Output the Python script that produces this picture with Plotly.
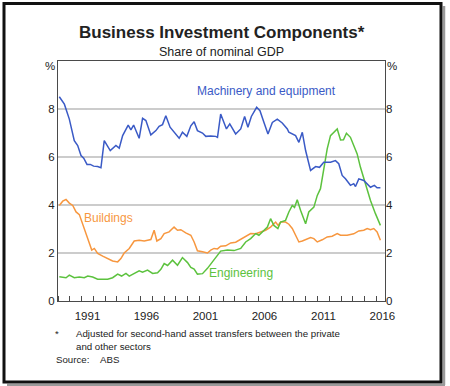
import plotly.graph_objects as go

# ---- data ----
me_year = [1989.11, 1989.54, 1989.96, 1990.38, 1990.67, 1990.95, 1991.18, 1991.46, 1991.74, 1992.02,
           1992.36, 1992.64, 1992.92, 1993.43, 1993.91, 1994.19, 1994.48, 1994.95, 1995.18, 1995.41,
           1995.88, 1996.17, 1996.45, 1996.87, 1997.30, 1997.57, 1997.86, 1998.14, 1998.50, 1998.84,
           1999.27, 1999.55, 1999.92, 2000.26, 2000.54, 2000.82, 2001.25, 2001.53, 2001.95, 2002.37,
           2002.52, 2002.79, 2003.07, 2003.28, 2003.56, 2004.06, 2004.49, 2004.82, 2005.10, 2005.39,
           2005.84, 2006.12, 2006.46, 2006.80, 2007.17, 2007.59, 2008.01, 2008.44, 2008.57, 2009.14,
           2009.42, 2009.71, 2009.99, 2010.41, 2010.84, 2011.17, 2011.53, 2012.10, 2012.52, 2012.80,
           2013.09, 2013.37, 2013.79, 2014.07, 2014.22, 2014.50, 2014.92, 2015.21, 2015.49, 2015.82,
           2016.05, 2016.33]
me_val = [8.51, 8.20, 7.58, 6.68, 6.48, 6.06, 5.95, 5.69, 5.69, 5.62,
          5.60, 5.55, 6.68, 6.27, 6.48, 6.37, 6.89, 7.33, 7.13, 7.33,
          6.78, 7.61, 7.52, 6.92, 7.10, 7.28, 7.35, 7.72, 7.24, 7.03,
          6.78, 7.03, 6.86, 7.30, 7.47, 7.10, 7.00, 6.86, 6.88, 6.86,
          6.82, 7.79, 7.44, 7.17, 7.38, 6.96, 7.17, 7.69, 7.24, 7.69,
          8.07, 7.93, 7.44, 6.96, 7.44, 7.58, 7.42, 7.17, 7.03, 6.89,
          6.61, 7.03, 6.27, 5.44, 5.60, 5.57, 5.78, 5.78, 5.85, 5.72,
          5.23, 5.09, 4.82, 4.89, 4.77, 5.09, 5.02, 4.89, 4.74, 4.82,
          4.72, 4.72]

eng_year = [1989.11, 1989.40, 1989.68, 1989.96, 1990.38, 1990.81, 1991.23, 1991.52, 1991.94, 1992.36,
            1992.79, 1993.21, 1993.63, 1994.06, 1994.39, 1994.76, 1995.04, 1995.46, 1995.88, 1996.17,
            1996.59, 1997.02, 1997.44, 1997.72, 1998.00, 1998.29, 1998.71, 1999.13, 1999.55, 1999.98,
            2000.26, 2000.54, 2000.82, 2001.25, 2001.67, 2002.09, 2002.52, 2002.79, 2003.36, 2003.92,
            2004.49, 2004.91, 2005.33, 2005.76, 2006.03, 2006.46, 2006.75, 2007.02, 2007.30, 2007.64,
            2007.87, 2008.29, 2008.57, 2008.86, 2009.05, 2009.28, 2009.56, 2009.99, 2010.26, 2010.69,
            2010.98, 2011.25, 2011.53, 2011.82, 2012.10, 2012.38, 2012.67, 2012.95, 2013.20, 2013.45,
            2013.79, 2014.07, 2014.36, 2014.64, 2015.06, 2015.49, 2015.91, 2016.33]
eng_val = [1.01, 1.00, 0.97, 1.08, 0.97, 1.00, 0.97, 1.04, 1.00, 0.91,
           0.90, 0.91, 0.97, 1.12, 1.04, 1.15, 1.04, 1.15, 1.26, 1.20,
           1.29, 1.15, 1.18, 1.32, 1.56, 1.48, 1.70, 1.49, 1.81, 1.60,
           1.40, 1.33, 1.12, 1.14, 1.36, 1.63, 1.91, 2.08, 2.12, 2.10,
           2.19, 2.46, 2.60, 2.81, 2.74, 2.95, 3.08, 3.43, 3.15, 3.02,
           3.29, 3.36, 3.71, 3.98, 3.90, 4.22, 3.78, 3.22, 3.71, 3.91,
           4.40, 4.68, 5.51, 6.34, 6.89, 7.03, 7.17, 6.71, 6.72, 6.99,
           6.82, 6.48, 6.13, 5.57, 4.89, 4.19, 3.64, 3.15]

bld_year = [1989.11, 1989.40, 1989.68, 1989.96, 1990.25, 1990.53, 1990.81, 1991.09, 1991.37, 1991.65,
            1991.86, 1992.08, 1992.36, 1992.79, 1993.21, 1993.63, 1994.06, 1994.33, 1994.61, 1995.04,
            1995.46, 1995.88, 1996.31, 1996.87, 1997.15, 1997.38, 1997.72, 1998.00, 1998.42, 1998.84,
            1999.13, 1999.41, 1999.83, 2000.26, 2000.54, 2000.82, 2001.25, 2001.67, 2001.95, 2002.23,
            2002.52, 2002.79, 2003.22, 2003.64, 2004.06, 2004.49, 2004.91, 2005.33, 2005.76, 2006.18,
            2006.60, 2007.02, 2007.45, 2007.66, 2007.87, 2008.29, 2008.57, 2008.86, 2009.14, 2009.42,
            2009.71, 2010.13, 2010.41, 2010.69, 2010.98, 2011.40, 2011.82, 2012.24, 2012.67, 2012.95,
            2013.51, 2014.07, 2014.50, 2014.92, 2015.21, 2015.49, 2015.77, 2016.05, 2016.33]
bld_val = [3.98, 4.16, 4.23, 4.08, 3.98, 3.71, 3.60, 3.22, 2.81, 2.40,
           2.12, 2.19, 1.98, 1.87, 1.77, 1.67, 1.63, 1.77, 2.00, 2.19,
           2.50, 2.53, 2.50, 2.56, 2.95, 2.50, 2.60, 2.81, 2.88, 3.08,
           2.95, 2.97, 2.84, 2.74, 2.46, 2.09, 2.05, 2.00, 2.12, 2.19,
           2.17, 2.28, 2.30, 2.42, 2.45, 2.56, 2.70, 2.81, 2.80, 2.88,
           2.95, 3.08, 3.29, 3.15, 3.29, 3.29, 3.20, 3.02, 2.74, 2.46,
           2.50, 2.60, 2.64, 2.60, 2.46, 2.55, 2.67, 2.70, 2.81, 2.74,
           2.74, 2.80, 2.92, 2.95, 3.02, 2.97, 3.02, 2.88, 2.53]

year_labels = ["1991", "1996", "2001", "2006", "2011", "2016"]
y_ticks = [0, 2, 4, 6, 8]

BLUE = "#3a5ac6"
ORANGE = "#f7973f"
GREEN = "#5cc23e"
FONT = "Liberation Sans, Arial, sans-serif"
TXT = "#222222"
AX = "#4a4a4a"

fig = go.Figure()
fig.add_trace(go.Scatter(x=bld_year, y=bld_val, mode="lines", line=dict(color=ORANGE, width=1.5),
                         name="Buildings", hoverinfo="skip"))
fig.add_trace(go.Scatter(x=eng_year, y=eng_val, mode="lines", line=dict(color=GREEN, width=1.5),
                         name="Engineering", hoverinfo="skip"))
fig.add_trace(go.Scatter(x=me_year, y=me_val, mode="lines", line=dict(color=BLUE, width=1.5),
                         name="Machinery and equipment", hoverinfo="skip"))
# invisible copy to bring the right-hand axis into view
fig.add_trace(go.Scatter(x=me_year, y=me_val, mode="lines", line=dict(width=0), opacity=0,
                         yaxis="y2", showlegend=False, hoverinfo="skip"))

tickpos = [int(t) + 0.5 for t in year_labels]

fig.update_layout(
    width=450, height=386, autosize=False,
    margin=dict(l=58, r=65, t=61, b=85),
    paper_bgcolor="white", plot_bgcolor="white",
    showlegend=False,
    font=dict(family=FONT, size=11, color=TXT),
    xaxis=dict(range=[1989.0, 2016.72], tickmode="array", tickvals=tickpos, ticktext=year_labels,
               ticks="", showgrid=False, zeroline=False, showline=True, mirror=True,
               linecolor=AX, linewidth=1, tickfont=dict(size=11.5, color=TXT),
               ticklabelstandoff=4,
               minor=dict(tick0=1990, dtick=1, ticks="inside", ticklen=5, tickcolor=AX,
                          tickwidth=1, showgrid=False)),
    yaxis=dict(range=[0, 10], tickmode="array", tickvals=y_ticks, ticks="", showgrid=True,
               gridcolor="#cccccc", gridwidth=1.8, zeroline=False, showline=True, mirror=True,
               linecolor=AX, linewidth=1, tickfont=dict(size=11.5, color=TXT)),
    yaxis2=dict(range=[0, 10], tickmode="array", tickvals=y_ticks, ticks="", showgrid=False,
                zeroline=False, overlaying="y", side="right", showline=False,
                tickfont=dict(size=11.5, color=TXT)),
)

ann = []
def A(text, x, y, xref="paper", yref="paper", xanchor="center", yanchor="middle", size=11,
      color=TXT, bold=False):
    ann.append(dict(text=("<b>%s</b>" % text) if bold else text, x=x, y=y, xref=xref, yref=yref,
                    xanchor=xanchor, yanchor=yanchor, showarrow=False,
                    font=dict(family=FONT, size=size, color=color)))

A("Business Investment Components*", 0.5, (301 - 33) / 240, size=17, bold=True)
A("Share of nominal GDP", 0.5, (301 - 52) / 240, size=12.5)
A("%", (50 - 58) / 327, (301 - 66) / 240, size=11.5)
A("%", (392 - 58) / 327, (301 - 66) / 240, size=11.5)
A("Machinery and equipment", 2006.69, 8.76, xref="x", yref="y", color=BLUE, size=12)
A("Buildings", 1993.32, 3.45, xref="x", yref="y", color=ORANGE, size=12)
A("Engineering", 2004.49, 1.16, xref="x", yref="y", color=GREEN, size=12)
A("*", (57 - 58) / 327, (301 - 333) / 240, size=9.7)
A("Adjusted for second-hand asset transfers between the private", (74 - 58) / 327,
  (301 - 333) / 240, xanchor="left", size=9.7)
A("and other sectors", (74 - 58) / 327, (301 - 346) / 240, xanchor="left", size=9.7)
A("Source:", (54 - 58) / 327, (301 - 359) / 240, xanchor="left", size=9.7)
A("ABS", (98 - 58) / 327, (301 - 359) / 240, xanchor="left", size=9.7)
fig.update_layout(annotations=ann)

def px(xp):
    return (xp - 58) / 327
def py(yp):
    return (301 - yp) / 240

shapes = [
    # shadow
    dict(type="line", xref="paper", yref="paper", x0=px(444), x1=px(444), y0=py(6), y1=py(385),
         line=dict(color="#9a9a9a", width=2.5)),
    dict(type="line", xref="paper", yref="paper", x0=px(7), x1=px(445), y0=py(385), y1=py(385),
         line=dict(color="#9a9a9a", width=2.5)),
    # frame
    dict(type="rect", xref="paper", yref="paper", x0=px(4), x1=px(441), y0=py(382), y1=py(3.5),
         line=dict(color="#111111", width=3)),
]
fig.update_layout(shapes=shapes)

fig.write_html("out.html", config={"displayModeBar": False},
               post_script="document.body.style.margin='0';document.body.style.overflow='hidden';")
